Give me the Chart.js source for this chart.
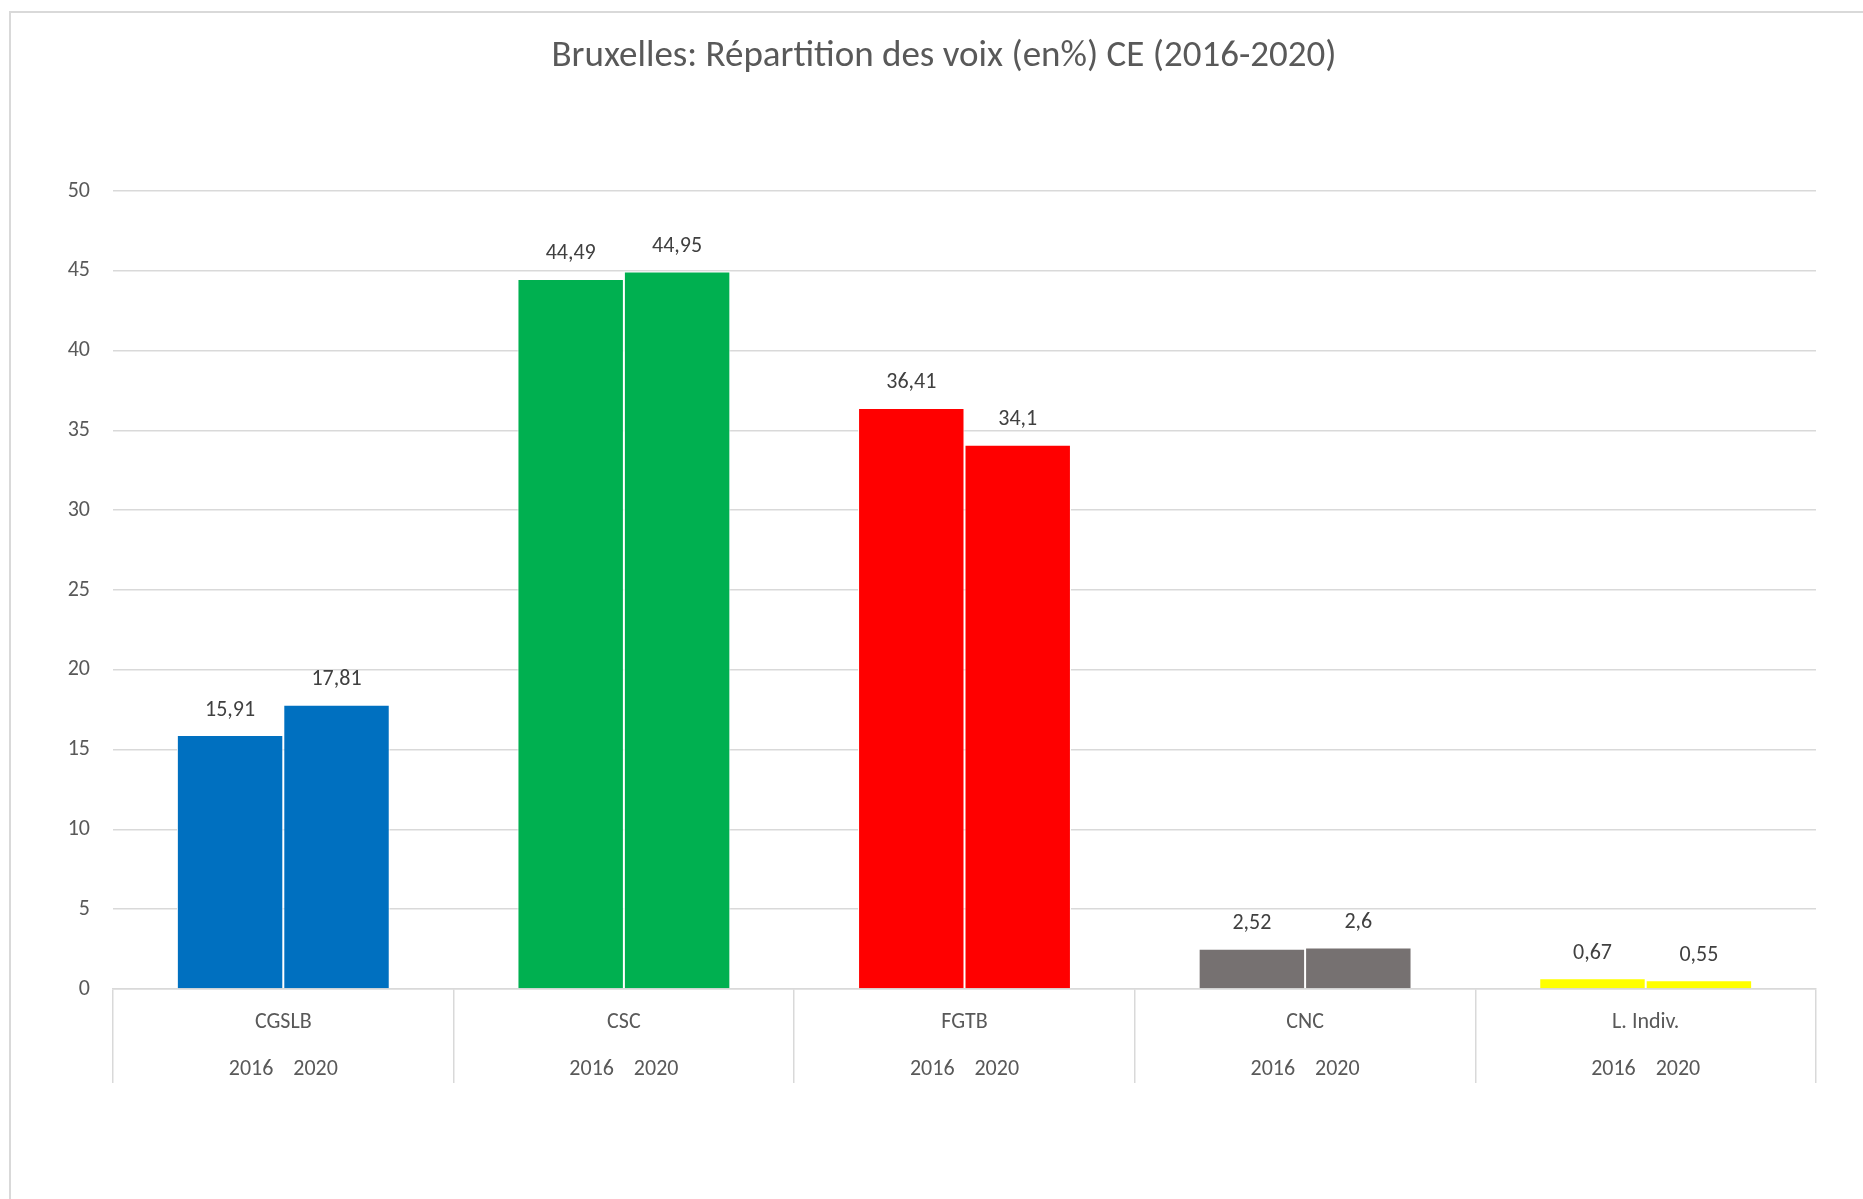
<!DOCTYPE html>
<html>
<head>
<meta charset="utf-8">
<script src="https://cdn.jsdelivr.net/npm/chart.js@4.4.1/dist/chart.umd.min.js"></script>
<style>
  html, body { margin: 0; padding: 0; background: #fff; overflow: hidden; }
  canvas { display: block; }
</style>
</head>
<body>
<canvas id="myChart" width="1863" height="1199"></canvas>
<script>
const ctx = document.getElementById('myChart');

// chart data
const categories = ['CGSLB', 'CSC', 'FGTB', 'CNC', 'L. Indiv.'];
const years = ['2016', '2020'];
const values2016 = [15.91, 44.49, 36.41, 2.52, 0.67];
const values2020 = [17.81, 44.95, 34.1, 2.6, 0.55];
const categoryColors = ['#0070C0', '#00B050', '#FF0000', '#767171', '#FFFF00'];
const yTicks = [0, 5, 10, 15, 20, 25, 30, 35, 40, 45, 50];
const titleText = 'Bruxelles: Répartition des voix (en%) CE (2016-2020)';

const FONT = "Carlito, Lato, 'Open Sans', sans-serif";

// Excel style labels above bars, with a decimal comma
const valueLabels = {
  id: 'valueLabels',
  afterDatasetsDraw(chart) {
    const c = chart.ctx;
    c.save();
    c.font = '22px ' + FONT;
    c.fillStyle = '#404040';
    c.textAlign = 'center';
    c.textBaseline = 'middle';
    chart.data.datasets.forEach((ds, i) => {
      chart.getDatasetMeta(i).data.forEach((bar, j) => {
        c.fillText(String(ds.data[j]).replace('.', ','), bar.x, bar.y - 25);
      });
    });
    c.restore();
  }
};

// light frame of the chart box + title (the excel box is wider than the view)
const frame = {
  id: 'frame',
  beforeDraw(chart) {
    const c = chart.ctx;
    c.save();
    c.strokeStyle = '#d9d9d9';
    c.lineWidth = 2;
    c.strokeRect(10, 12, chart.width + 50, chart.height + 50);
    c.font = '37px ' + FONT;
    c.fillStyle = '#595959';
    c.textAlign = 'center';
    c.textBaseline = 'middle';
    c.fillText(titleText, 944, 57);
    c.restore();
  }
};

const spacer = '    ';

new Chart(ctx, {
  type: 'bar',
  data: {
    labels: categories.map(cat => [cat, years.join(spacer)]),
    datasets: [{
      label: years[0],
      data: values2016,
      backgroundColor: categoryColors,
      borderColor: '#ffffff',
      borderWidth: 1
    }, {
      label: years[1],
      data: values2020,
      backgroundColor: categoryColors,
      borderColor: '#ffffff',
      borderWidth: 1
    }]
  },
  options: {
    responsive: false,
    animation: false,
    devicePixelRatio: 1,
    categoryPercentage: 0.625,
    barPercentage: 1,
    layout: { padding: { left: 0, right: 47, top: 191, bottom: 0 } },
    plugins: {
      legend: { display: false },
      tooltip: { enabled: false },
      title: { display: false }
    },
    scales: {
      x: {
        afterFit(scale) { scale.height = 1199 - 989; },
        border: { display: true, color: '#d9d9d9', width: 1.5 },
        grid: {
          offset: true,
          drawOnChartArea: false,
          drawTicks: true,
          tickLength: 94,
          color: '#d9d9d9',
          lineWidth: 1.5
        },
        ticks: {
          autoSkip: false,
          maxRotation: 0,
          padding: -84,
          color: '#595959',
          font: { family: FONT, size: 22, lineHeight: 2.136 }
        }
      },
      y: {
        min: 0,
        max: 50,
        afterFit(scale) { scale.width = 113; },
        afterBuildTicks(scale) { scale.ticks = yTicks.map(v => ({ value: v })); },
        border: { display: false },
        grid: { color: '#d9d9d9', lineWidth: 1.5, drawTicks: false },
        ticks: {
          padding: 23,
          color: '#595959',
          font: { family: FONT, size: 22 }
        }
      }
    }
  },
  plugins: [frame, valueLabels]
});
</script>
</body>
</html>
